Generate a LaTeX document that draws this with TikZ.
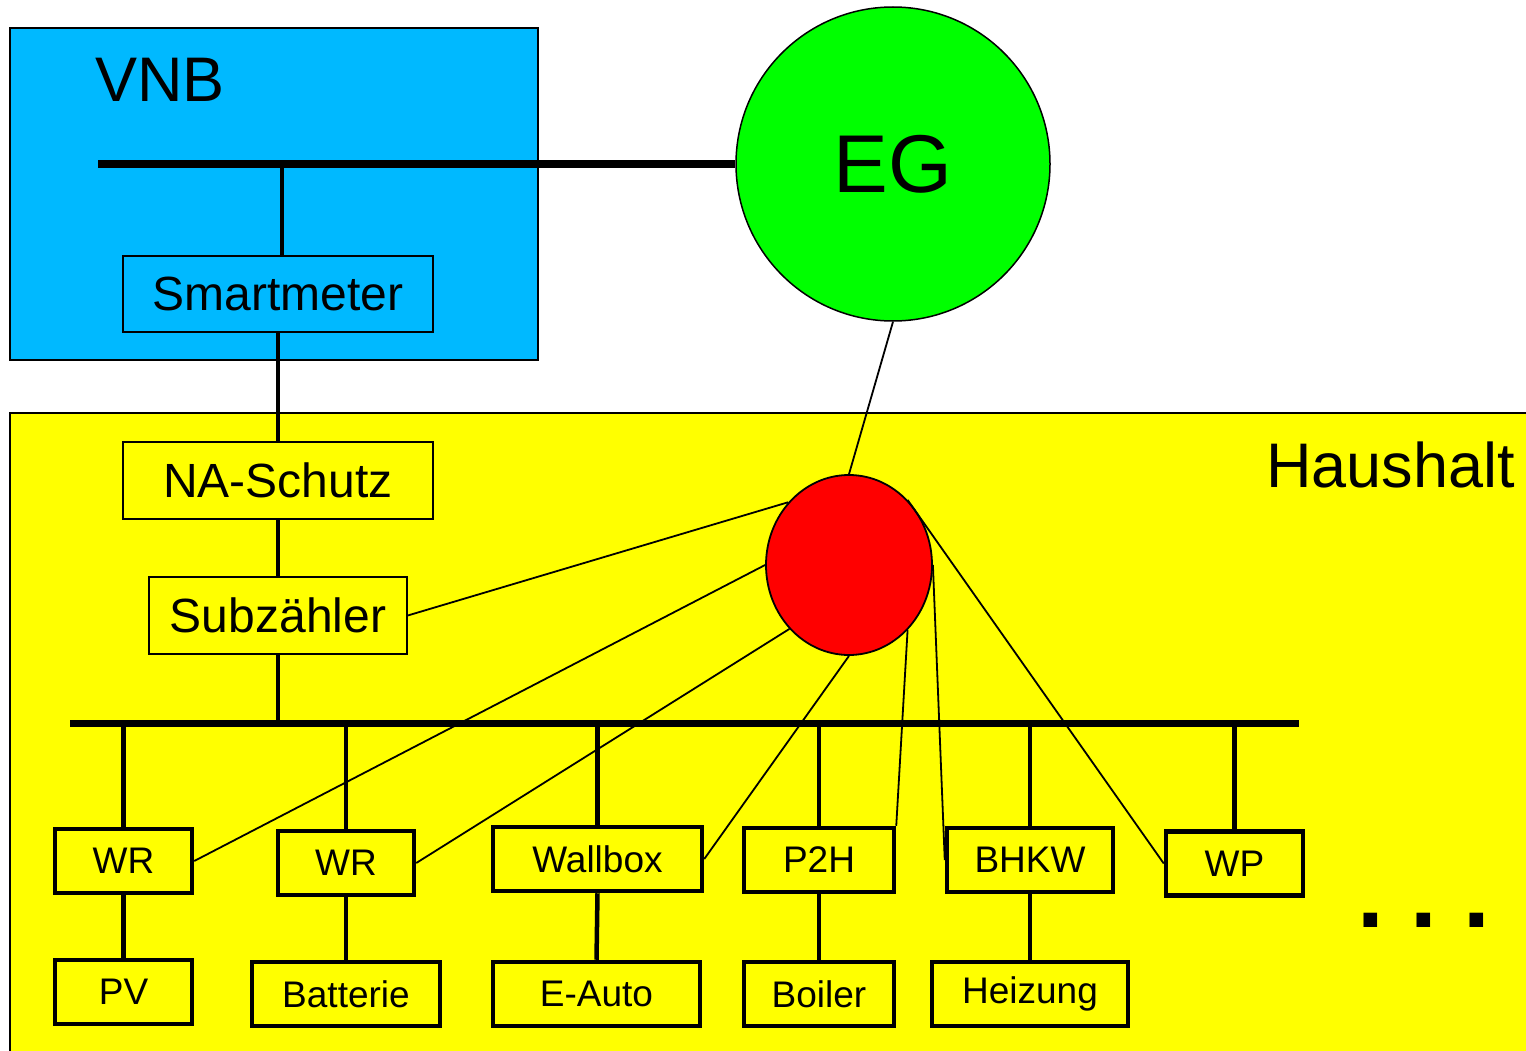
\documentclass[tikz,border=0pt]{standalone}
\usepackage{fontspec}
\setmainfont{Liberation Sans}
\usepackage{tikz}
\usepackage{xcolor}
\usetikzlibrary{shapes.geometric, positioning}

\definecolor{vnbblue}{RGB}{0,185,255}
\definecolor{hhyellow}{RGB}{255,255,0}
\definecolor{eggreen}{RGB}{0,255,0}
\definecolor{hubred}{RGB}{255,0,0}

\begin{document}
\begin{tikzpicture}[x=1pt, y=-1pt,
    thinbox/.style={draw, line width=1.5pt, inner sep=0pt, font=\fontsize{48}{48}\selectfont},
    devbox/.style={draw, line width=4.5pt, inner sep=0pt, minimum height=64pt, font=\fontsize{37}{37}\selectfont},
    busbar/.style={line width=8pt},
    drop/.style={line width=4.5pt},
    wire/.style={line width=1.8pt}]
    \useasboundingbox (0,0) rectangle (1526,1051);
    \clip (0,0) rectangle (1526,1051);

    % areas
    \draw[fill=vnbblue, line width=2pt] (10,28) rectangle (538,360);
    \draw[fill=hhyellow, line width=2pt] (10,413) rectangle (1560,1080);
    \node[anchor=base west, inner sep=0pt, font=\fontsize{63}{63}\selectfont] (vnb) at (95,102) {VNB};
    \node[anchor=base east, inner sep=0pt, font=\fontsize{63}{63}\selectfont] (haushalt) at (1515,487) {Haushalt};

    % meters
    \node[thinbox, minimum width=310pt, minimum height=76pt] (smart) at (278,294) {Smartmeter};
    \node[thinbox, minimum width=310pt, minimum height=77pt] (na) at (278,480.5) {NA-Schutz};
    \node[thinbox, minimum width=258pt, minimum height=77pt] (sub) at (278,615.5) {Subzähler};

    % grid and hub
    \node[circle, draw, fill=eggreen, line width=1.5pt, minimum size=314pt, inner sep=0pt, font=\fontsize{82}{82}\selectfont] (eg) at (893,164) {EG};
    \node[ellipse, draw, fill=hubred, line width=1.8pt, minimum width=166pt, minimum height=180pt] (hub) at (849,565) {};

    % devices
    \node[devbox, minimum width=137pt] (wr1) at (123.5,861) {WR};
    \node[devbox, minimum width=136pt] (wr2) at (346,863) {WR};
    \node[devbox, minimum width=209pt] (wallbox) at (597.5,859) {Wallbox};
    \node[devbox, minimum width=150pt] (p2h) at (819,860) {P2H};
    \node[devbox, minimum width=166pt] (bhkw) at (1030,860) {BHKW};
    \node[devbox, minimum width=137pt] (wp) at (1234.5,863.5) {WP};

    \node[devbox, minimum width=137pt] (pv) at (123.5,992) {PV};
    \node[devbox, minimum width=188pt] (batt) at (346,994) {Batterie};
    \node[devbox, minimum width=207pt] (eauto) at (596.5,994) {E-Auto};
    \node[devbox, minimum width=150pt] (boiler) at (819,994) {Boiler};
    \node[devbox, minimum width=196pt] (heiz) at (1030,994) {Heizung};

    \node[anchor=base, inner sep=0pt, font=\fontsize{96}{96}\selectfont\bfseries] (more) at (1424,927) {.~.~.};

    % busbars
    \coordinate (ubusL) at (98,164);
    \coordinate (lbusL) at (70,723);
    \coordinate (lbusR) at (1299,723);
    \draw[busbar] (ubusL) -- (eg.west);
    \draw[busbar, line width=7pt] (lbusL) -- (lbusR);

    % power path
    \draw[line width=4pt] ([xshift=4pt]smart.north) -- ([xshift=4pt]smart.north |- ubusL);
    \draw[line width=4pt] (smart.south) -- (na.north);
    \draw[line width=4pt] (na.south) -- (sub.north);
    \draw[line width=4pt] (sub.south) -- (sub.south |- lbusL);
    \foreach \dev in {wr1, wr2, wallbox, p2h, bhkw, wp}
        \draw[drop] (\dev.north) -- (\dev.north |- lbusL);
    \draw[drop] (wr1.south) -- (pv.north);
    \draw[drop] (wr2.south) -- (batt.north);
    \draw[drop] (wallbox.south) -- (eauto.north);
    \draw[drop] (p2h.south) -- (boiler.north);
    \draw[drop] (bhkw.south) -- (heiz.north);

    % communication
    \draw[wire] (hub.north) -- (eg.south);
    \draw[wire] (hub.134) -- (sub.east);
    \draw[wire] (hub.west) -- (wr1.east);
    \draw[wire] (hub.227) -- (wr2.east);
    \draw[wire] (hub.south) -- (wallbox.east);
    \draw[wire] (hub.312) -- (p2h.north east);
    \draw[wire] (hub.east) -- (bhkw.west);
    \draw[wire] (hub.48) -- (wp.west);
\end{tikzpicture}
\end{document}
